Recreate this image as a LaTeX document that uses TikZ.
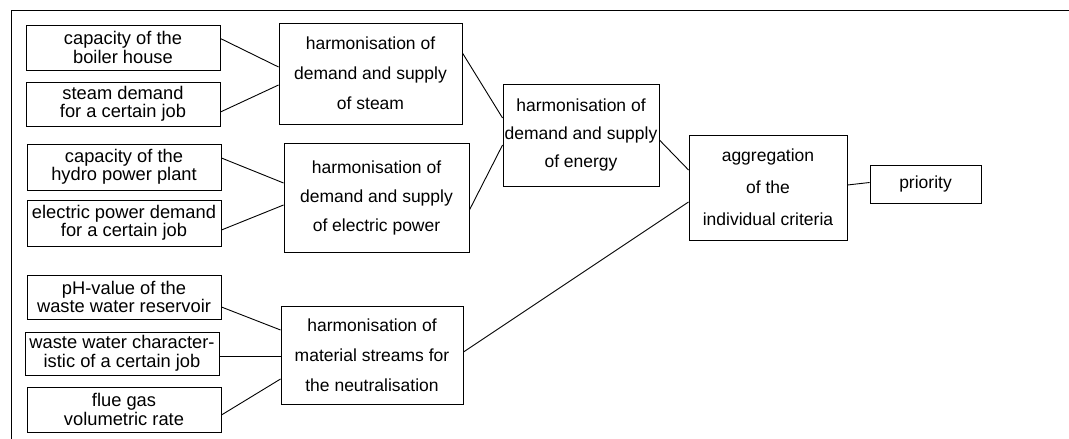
\documentclass[tikz,border=0pt]{standalone}
\usepackage{fontspec}
\setmainfont{Liberation Sans}
\begin{document}
\begin{tikzpicture}[x=1pt,y=-1pt,
  every path/.style={line width=0.9pt},
  inbox/.style={draw, line width=0.9pt, inner sep=0pt, align=center,
    minimum width=194pt, font=\fontsize{18.3}{18.5}\selectfont},
  hbox/.style={draw, line width=0.9pt, inner sep=0pt, align=center,
    font=\fontsize{17.5}{30}\selectfont},
  link/.style={draw, line width=0.9pt}]
\useasboundingbox (0,0) rectangle (1069,439);
% frame
\draw (11,439) -- (11,10) -- (1069,10);
% input boxes
\node[inbox, minimum height=45pt] (A1) at (123,47.5) {capacity of the\\boiler house};
\node[inbox, minimum height=44pt] (A2) at (123,104) {steam demand\\for a certain job};
\node[inbox, minimum height=46pt] (A3) at (124,167) {capacity of the\\hydro power plant};
\node[inbox, minimum height=46pt] (A4) at (124,223) {electric power demand\\for a certain job};
\node[inbox, minimum height=44pt] (A5) at (124,297) {pH-value of the\\waste water reservoir};
\node[inbox, minimum height=43pt] (A6) at (122,353.5) {waste water character-\\istic of a certain job};
\node[inbox, minimum height=45pt] (A7) at (124,409.5) {flue gas\\volumetric rate};
% harmonisation boxes
\node[hbox, minimum width=183pt, minimum height=101pt] (S) at (370.5,73.5) {harmonisation of\\demand and supply\\of steam};
\node[hbox, minimum width=185pt, minimum height=109pt, font=\fontsize{17.5}{29}\selectfont] (E) at (376.5,197.5) {harmonisation of\\demand and supply\\of electric power};
\node[hbox, minimum width=182pt, minimum height=98pt] (N) at (372,355) {harmonisation of\\material streams for\\the neutralisation};
\node[hbox, minimum width=156pt, minimum height=102pt, font=\fontsize{17.5}{28}\selectfont] (En) at (581,135) {harmonisation of\\demand and supply\\of energy};
\node[hbox, minimum width=158pt, minimum height=105pt, font=\fontsize{17.5}{32}\selectfont] (Ag) at (768,187.5) {aggregation\\of the\\individual criteria};
\node[hbox, minimum width=111pt, minimum height=38pt] (P) at (925.5,184) {priority};
% connectors
\draw[link] ([yshift=9pt]A1.east) -- ([yshift=6.5pt]S.west);
\draw[link] ([yshift=-8pt]A2.east) -- ([yshift=-11.5pt]S.west);
\draw[link] ([yshift=9pt]A3.east) -- ([yshift=14.5pt]E.west);
\draw[link] ([yshift=-7pt]A4.east) -- ([yshift=-7.5pt]E.west);
\draw[link] ([yshift=-10pt]A5.east) -- ([yshift=25pt]N.west);
\draw[link] ([yshift=-2.5pt]A6.east) -- ([yshift=-1pt]N.west);
\draw[link] ([yshift=-5.5pt]A7.east) -- ([yshift=-24pt]N.west);
\draw[link] ([yshift=20.5pt]S.east) -- ([yshift=17pt]En.west);
\draw[link] ([yshift=-12.5pt]E.east) -- ([yshift=-10pt]En.west);
\draw[link] ([yshift=-5pt]En.east) -- ([yshift=17.5pt]Ag.west);
\draw[link] ([yshift=3pt]N.east) -- ([yshift=-14.5pt]Ag.west);
\draw[link] ([yshift=2.5pt]Ag.east) -- ([yshift=1.5pt]P.west);
\end{tikzpicture}
\end{document}
